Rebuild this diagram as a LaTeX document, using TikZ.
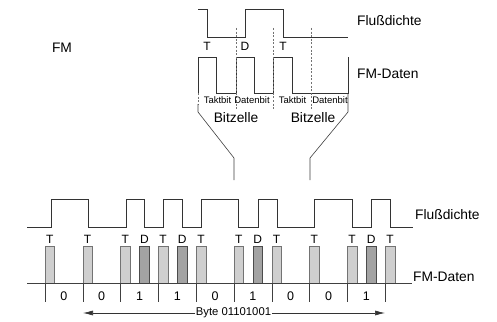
\documentclass[tikz,border=0pt]{standalone}
\usepackage{fontspec}
\setmainfont{Liberation Sans}
\usetikzlibrary{arrows.meta}
\begin{document}
\begin{tikzpicture}[x=1pt,y=-1pt,
  wave/.style={draw=black!80, line width=0.75pt},
  sepline/.style={draw=black!55, line width=0.5pt, dash pattern=on 2pt off 1.6pt},
  funnel/.style={draw=black!75, line width=0.6pt},
  big/.style={font=\fontsize{13.8}{15}\selectfont, inner sep=0pt},
  small/.style={font=\fontsize{9.5}{10}\selectfont, inner sep=0pt},
  mid/.style={font=\fontsize{12}{13}\selectfont, inner sep=0pt},
  bitlbl/.style={font=\fontsize{12.5}{13}\selectfont, inner sep=0pt},
  tbar/.style={fill=gray!38, draw=black!55, line width=0.4pt},
  dbar/.style={fill=gray!72, draw=black!70, line width=0.4pt}]
\useasboundingbox (0,0) rectangle (497,321);
\fill[white] (0,0) rectangle (497,321);

% ---------- top: one byte detail ----------
\node[big] (fm) at (62,48) {FM};
% flux
\draw[wave] (198,9) -- (207,9) -- (207,37) -- (245,37) -- (245,9) -- (283,9) -- (283,37) -- (348,37);
% FM data
\draw[wave] (198,93) -- (198,57) -- (216,57) -- (216,93) -- (236,93) -- (236,57) -- (254,57) -- (254,93)
  -- (273,93) -- (273,57) -- (292,57) -- (292,93) -- (348,93) -- (348,57);
% separators
\foreach \x in {236,273,311} \draw[sepline] (\x,28) -- (\x,110);
\draw[sepline] (198,93) -- (198,104);
% funnel
\draw[funnel] (198,104) -- (198,112) -- (234,158) -- (234,180);
\draw[funnel] (348,93) -- (348,112) -- (310,158) -- (310,180);
% labels
\node[anchor=west,big] (fl1) at (357,21) {Flußdichte};
\node[anchor=west,big] (fd1) at (357,74) {FM-Daten};
\node[mid] (t1) at (207,46) {T};
\node[mid] (d1) at (245,46) {D};
\node[mid] (t2) at (283,46) {T};
\node[small] (k1) at (217.5,100) {Taktbit};
\node[small] (b1) at (252,100) {Datenbit};
\node[small] (k2) at (292.5,100) {Taktbit};
\node[small] (b2) at (330,100) {Datenbit};
\node[big] (z1) at (236,118) {Bitzelle};
\node[big] (z2) at (313,118) {Bitzelle};

% ---------- bottom: whole byte ----------
\draw[wave] (27,227) -- (51,227) -- (51,199) -- (88,199) -- (88,227) -- (126,227) -- (126,199)
  -- (144,199) -- (144,227) -- (163,227) -- (163,199) -- (182,199) -- (182,227) -- (201,227)
  -- (201,199) -- (238,199) -- (238,227) -- (258,227) -- (258,199) -- (277,199) -- (277,227)
  -- (314,227) -- (314,199) -- (352,199) -- (352,227) -- (371,227) -- (371,199) -- (390,199)
  -- (390,227) -- (413,227);
% clock bars
\foreach \i in {0,...,9} {
  \pgfmathsetmacro{\cx}{45+37.8*\i}
  \draw[tbar] (\cx,246) rectangle (\cx+9.5,283);
  \node[mid] (tt\i) at (\cx+4.75,239) {T};
  \draw[black!75, line width=0.5pt] (\cx,283) -- (\cx,302);
}
% data bars
\foreach \i in {2,3,5,8} {
  \pgfmathsetmacro{\cx}{45+37.8*\i+19}
  \draw[dbar] (\cx,246) rectangle (\cx+9.5,283);
  \node[mid] (dd\i) at (\cx+4.75,239) {D};
}
% baseline
\draw[black!75, line width=0.6pt] (27,283) -- (412,283);
% bits
\foreach \b [count=\i from 0] in {0,0,1,1,0,1,0,0,1} {
  \node[bitlbl] (bit\i) at (45+37.8*\i+18.9,296) {\b};
}
\node[anchor=west,big] (fl2) at (415,215) {Flußdichte};
\node[anchor=west,big] (fd2) at (413,277) {FM-Daten};
% byte arrow
\coordinate (ba) at (83,313);
\coordinate (bb) at (385,313);
\node[font=\fontsize{11.3}{12}\selectfont, fill=white, inner sep=0.5pt] (byte) at (233.5,313) {Byte 01101001};
\draw[black!80, line width=0.6pt, -{Latex[length=10pt,width=5pt]}] (byte) -- (ba);
\draw[black!80, line width=0.6pt, -{Latex[length=10pt,width=5pt]}] (byte) -- (bb);
\end{tikzpicture}
\end{document}
